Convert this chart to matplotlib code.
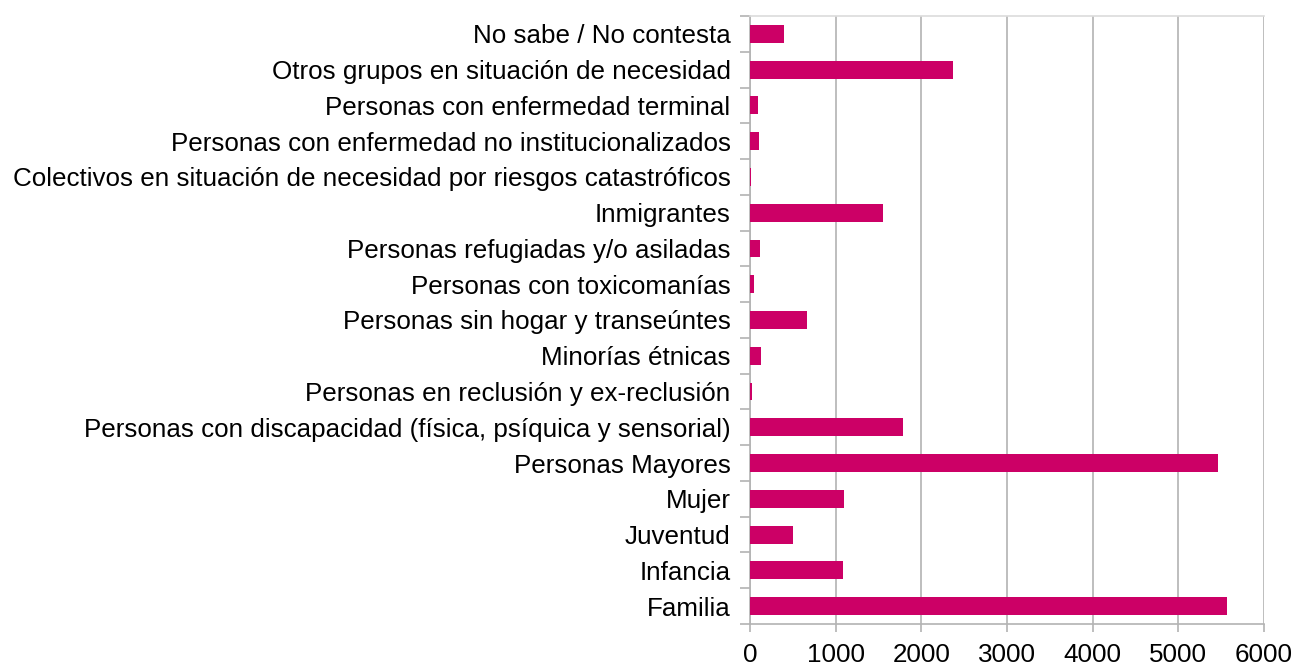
import matplotlib
matplotlib.use("Agg")
import matplotlib.pyplot as plt
import numpy as np

categories = [
    "Familia",
    "Infancia",
    "Juventud",
    "Mujer",
    "Personas Mayores",
    "Personas con discapacidad (física, psíquica y sensorial)",
    "Personas en reclusión y ex-reclusión",
    "Minorías étnicas",
    "Personas sin hogar y transeúntes",
    "Personas con toxicomanías",
    "Personas refugiadas y/o asiladas",
    "Inmigrantes",
    "Colectivos en situación de necesidad por riesgos catastróficos",
    "Personas con enfermedad no institucionalizados",
    "Personas con enfermedad terminal",
    "Otros grupos en situación de necesidad",
    "No sabe / No contesta",
]
values = [5570, 1085, 500, 1095, 5465, 1785, 23, 128, 664, 47, 117, 1550, 12, 105, 93, 2365, 396]
x_ticks = [0, 1000, 2000, 3000, 4000, 5000, 6000]

plt.rcParams["font.family"] = ["Liberation Sans", "DejaVu Sans"]

fig = plt.figure(figsize=(12.96, 6.70), dpi=100)
ax = fig.add_axes([750 / 1296, 1 - 624 / 670, 514 / 1296, 608 / 670])

y = np.arange(len(categories))
ax.barh(y, values, height=0.5, color="#CC0066", zorder=3)

ax.set_xlim(0, 6000)
ax.set_ylim(-0.5, len(categories) - 0.5)
ax.set_xticks(x_ticks)
ax.set_xticklabels([str(t) for t in x_ticks], fontsize=18.75)
ax.set_yticks(y)
ax.set_yticklabels(categories, fontsize=18.75)
ax.set_yticks(np.arange(len(categories) + 1) - 0.5, minor=True)

ax.grid(axis="x", color="#b3b3b3", linewidth=1.2, zorder=0)
ax.tick_params(axis="y", which="major", length=0, pad=14)
ax.tick_params(axis="y", which="minor", length=7.5, color="#b3b3b3", width=1.2)
ax.tick_params(axis="x", length=6, color="#b3b3b3", width=1.2, pad=8)

ax.spines["right"].set_visible(False)
ax.spines["top"].set_color("#dcdcdc")
ax.spines["top"].set_linewidth(1.2)
ax.spines["left"].set_color("#b3b3b3")
ax.spines["bottom"].set_color("#b3b3b3")
ax.spines["left"].set_linewidth(1.2)
ax.spines["bottom"].set_linewidth(1.2)

fig.savefig("out.png", dpi=100)
